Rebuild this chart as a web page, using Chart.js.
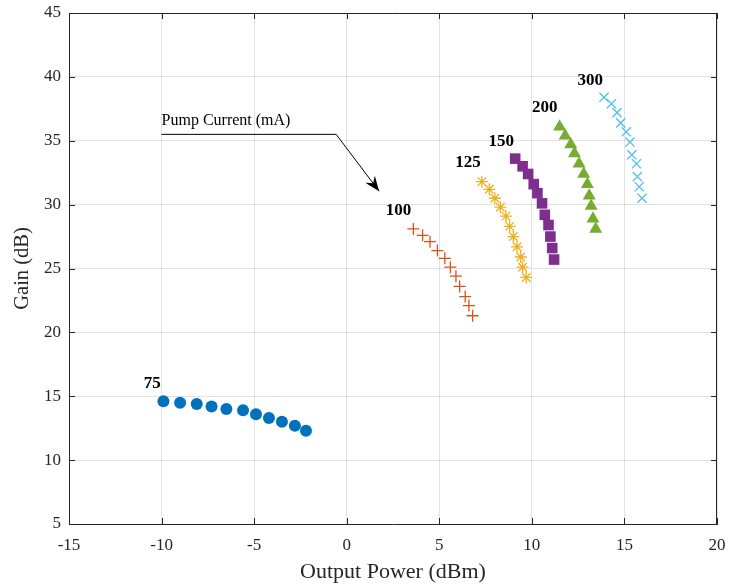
<!DOCTYPE html>
<html>
<head>
<meta charset="utf-8">
<script src="https://cdn.jsdelivr.net/npm/chart.js@4/dist/chart.umd.min.js"></script>
<style>
  html, body { margin: 0; padding: 0; background: #fff; }
  #wrap { width: 729px; height: 585px; }
</style>
</head>
<body>
<div id="wrap"><canvas id="myChart"></canvas></div>
<script>
// pump current labels
const currents = ['75', '100', '125', '150', '200', '300'];

// output power (dBm) and gain (dB) for each pump current
const power75 = [-9.9, -9.0, -8.1, -7.3, -6.5, -5.6, -4.9, -4.2, -3.5, -2.8, -2.2];
const gain75 = [14.6, 14.5, 14.4, 14.2, 14.0, 13.9, 13.6, 13.3, 13.0, 12.7, 12.3];
const power100 = [3.6, 4.1, 4.5, 4.9, 5.3, 5.6, 5.9, 6.1, 6.4, 6.6, 6.8];
const gain100 = [28.1, 27.6, 27.1, 26.4, 25.8, 25.1, 24.4, 23.6, 22.8, 22.1, 21.3];
const power125 = [7.3, 7.7, 8.0, 8.3, 8.6, 8.8, 9.0, 9.2, 9.4, 9.5, 9.7];
const gain125 = [31.8, 31.2, 30.5, 29.8, 29.1, 28.3, 27.5, 26.7, 25.9, 25.1, 24.3];
const power150 = [9.1, 9.5, 9.8, 10.1, 10.3, 10.55, 10.7, 10.9, 11.0, 11.1, 11.2];
const gain150 = [33.6, 33.0, 32.4, 31.6, 30.9, 30.1, 29.2, 28.4, 27.5, 26.6, 25.7];
const power200 = [11.5, 11.8, 12.1, 12.3, 12.55, 12.8, 13.0, 13.1, 13.2, 13.3, 13.45];
const gain200 = [36.1, 35.4, 34.7, 34.0, 33.2, 32.4, 31.6, 30.7, 29.9, 28.9, 28.1];
const power300 = [13.9, 14.3, 14.6, 14.8, 15.1, 15.3, 15.4, 15.65, 15.7, 15.8, 15.95];
const gain300 = [38.4, 37.9, 37.2, 36.4, 35.7, 34.9, 33.9, 33.2, 32.2, 31.4, 30.5];

// where each current label sits (data coords)
const labelX = [-10.5, 2.8, 6.55, 8.35, 10.7, 13.15];
const labelY = [16.0, 29.5, 33.3, 34.9, 37.6, 39.7];

const xTicks = [-15, -10, -5, 0, 5, 10, 15, 20];
const yTicks = [5, 10, 15, 20, 25, 30, 35, 40, 45];

const powers = [power75, power100, power125, power150, power200, power300];
const gains = [gain75, gain100, gain125, gain150, gain200, gain300];
const colors = ['#0072BD', '#D95319', '#EDB120', '#7E2F8E', '#77AC30', '#4DBEEE'];
const shapes = ['circle', 'cross', 'star', 'rect', 'triangle', 'crossRot'];
const sizes = [6, 6, 6, 7.5, 7.5, 6.5];
const filled = [true, false, false, true, true, false];

const serif = '"Liberation Serif", "DejaVu Serif", serif';
const axisColor = '#262626';

const datasets = currents.map((c, i) => ({
    label: c + ' mA',
    data: powers[i].map((p, j) => ({ x: p, y: gains[i][j] })),
    pointStyle: shapes[i],
    pointRadius: sizes[i],
    pointBorderWidth: filled[i] ? 0 : 1.3,
    borderColor: colors[i],
    backgroundColor: filled[i] ? colors[i] : 'transparent',
    showLine: false
}));

const extras = {
    id: 'extras',
    afterDatasetsDraw(chart) {
        const ctx = chart.ctx;
        const xs = chart.scales.x, ys = chart.scales.y;
        const a = chart.chartArea;
        ctx.save();
        // box on top and right
        ctx.strokeStyle = axisColor;
        ctx.lineWidth = 1;
        ctx.beginPath();
        ctx.moveTo(a.left, a.top + 0.5);
        ctx.lineTo(a.right - 0.5, a.top + 0.5);
        ctx.lineTo(a.right - 0.5, a.bottom);
        ctx.stroke();
        // inward ticks
        ctx.beginPath();
        xTicks.forEach(v => {
            const px = Math.round(xs.getPixelForValue(v)) + 0.5;
            ctx.moveTo(px, a.bottom); ctx.lineTo(px, a.bottom - 6);
            ctx.moveTo(px, a.top); ctx.lineTo(px, a.top + 6);
        });
        yTicks.forEach(v => {
            const py = Math.round(ys.getPixelForValue(v)) + 0.5;
            ctx.moveTo(a.left, py); ctx.lineTo(a.left + 6, py);
            ctx.moveTo(a.right, py); ctx.lineTo(a.right - 6, py);
        });
        ctx.stroke();

        // current labels
        ctx.fillStyle = '#000';
        ctx.font = 'bold 17px ' + serif;
        ctx.textAlign = 'center';
        ctx.textBaseline = 'middle';
        currents.forEach((c, i) => {
            ctx.fillText(c, xs.getPixelForValue(labelX[i]), ys.getPixelForValue(labelY[i]));
        });

        // "Pump Current (mA)" annotation with arrow
        const x0 = xs.getPixelForValue(-10), y0 = ys.getPixelForValue(35.5);
        const x1 = xs.getPixelForValue(-0.57);
        const x2 = xs.getPixelForValue(1.75), y2 = ys.getPixelForValue(31.05);
        ctx.font = '16px ' + serif;
        ctx.textAlign = 'left';
        ctx.textBaseline = 'alphabetic';
        ctx.fillText('Pump Current (mA)', x0, y0 - 9);
        ctx.strokeStyle = '#000';
        ctx.lineWidth = 1;
        ctx.beginPath();
        ctx.moveTo(x0, y0);
        ctx.lineTo(x1, y0);
        ctx.lineTo(x2, y2);
        ctx.stroke();
        const ang = Math.atan2(y2 - y0, x2 - x1);
        const L = 15, W = 6, N = 10;
        ctx.translate(x2, y2);
        ctx.rotate(ang);
        ctx.beginPath();
        ctx.moveTo(0, 0);
        ctx.lineTo(-L, -W);
        ctx.lineTo(-N, 0);
        ctx.lineTo(-L, W);
        ctx.closePath();
        ctx.fillStyle = '#000';
        ctx.fill();
        ctx.restore();
    }
};

document.addEventListener('DOMContentLoaded', function () {
    const ctx = document.getElementById('myChart').getContext('2d');
    new Chart(ctx, {
        type: 'scatter',
        data: { datasets: datasets },
        options: {
            responsive: true,
            maintainAspectRatio: false,
            animation: false,
            layout: { padding: { top: 13, right: 12, left: 0, bottom: 0 } },
            plugins: { legend: { display: false }, tooltip: { enabled: false } },
            scales: {
                x: {
                    type: 'linear',
                    min: -15, max: 20,
                    afterBuildTicks: s => { s.ticks = xTicks.map(v => ({ value: v })); },
                    afterFit: s => { s.height = 61; s.paddingLeft = 0; s.paddingRight = 0; },
                    grid: { color: 'rgba(38,38,38,0.13)', drawTicks: false },
                    border: { color: axisColor, width: 1 },
                    ticks: { color: axisColor, padding: 11, font: { family: serif, size: 17 } },
                    title: { display: true, text: 'Output Power (dBm)', color: axisColor,
                        padding: { top: 0, bottom: 0 }, font: { family: serif, size: 22 } }
                },
                y: {
                    type: 'linear',
                    min: 5, max: 45,
                    afterBuildTicks: s => { s.ticks = yTicks.map(v => ({ value: v })); },
                    afterFit: s => { s.width = 69; s.paddingTop = 0; s.paddingBottom = 0; },
                    grid: { color: 'rgba(38,38,38,0.13)', drawTicks: false },
                    border: { color: axisColor, width: 1 },
                    ticks: { color: axisColor, padding: 8, font: { family: serif, size: 17 } },
                    title: { display: true, text: 'Gain (dB)', color: axisColor,
                        padding: { top: 10, bottom: 0 }, font: { family: serif, size: 20.5 } }
                }
            }
        },
        plugins: [extras]
    });
});
</script>
</body>
</html>
